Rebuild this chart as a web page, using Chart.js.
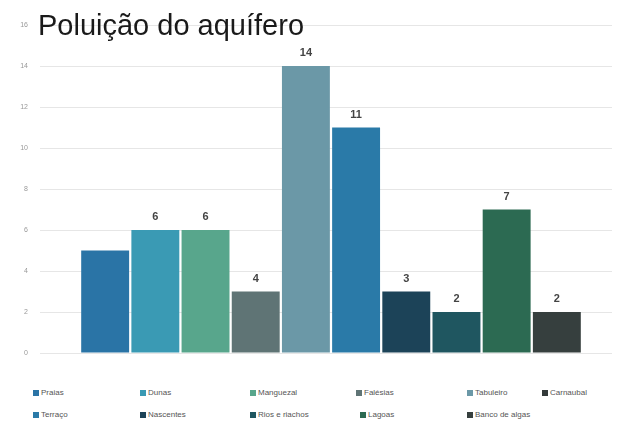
<!DOCTYPE html>
<html>
<head>
<meta charset="utf-8">
<script src="https://cdn.jsdelivr.net/npm/chart.js@4"></script>
<style>
  body { margin: 0; background: #fff; font-family: "Liberation Sans", Arial, sans-serif; }
  #wrap { position: relative; width: 617px; height: 426px; }
  #chart { position: absolute; left: 0; top: 0; }
  #title { position: absolute; left: 38px; top: 9px; font-size: 29px; color: #1a1a1a; white-space: nowrap; }
  .lg { position: absolute; font-size: 8px; color: #555; white-space: nowrap; line-height: 8px; }
  .lg i { display: inline-block; width: 6px; height: 6px; margin-right: 2px; vertical-align: -1px; }
</style>
</head>
<body>
<div id="wrap">
  <canvas id="chart" width="617" height="370"></canvas>
  <div id="title">Poluição do aquífero</div>
  <div id="legend"></div>
</div>
<script>
// Data
const series = ['Praias', 'Dunas', 'Manguezal', 'Falésias', 'Tabuleiro', 'Carnaubal',
                'Terraço', 'Nascentes', 'Rios e riachos', 'Lagoas', 'Banco de algas'];
const values = [5, 6, 6, 3, 14, null, 11, 3, 2, 7, 2];
const valueLabels = ['', '6', '6', '4', '14', '', '11', '3', '2', '7', '2'];
const colors = ['#2a74a6', '#3a9ab4', '#58a68c', '#5f7475', '#6b98a7', '#333a3a',
                '#2a7aa8', '#1c4358', '#1f5660', '#2c6a52', '#363f3e'];
const yTicks = [0, 2, 4, 6, 8, 10, 12, 14, 16];

// Labels above bars
const barLabels = {
    id: 'barLabels',
    afterDatasetsDraw(chart) {
        const ctx = chart.ctx;
        ctx.save();
        ctx.font = 'bold 11px "Liberation Sans", Arial, sans-serif';
        ctx.fillStyle = '#444';
        ctx.textAlign = 'center';
        ctx.textBaseline = 'middle';
        chart.data.datasets.forEach((ds, i) => {
            const bar = chart.getDatasetMeta(i).data[0];
            if (!bar || values[i] == null || !valueLabels[i]) return;
            ctx.fillText(valueLabels[i], bar.x, bar.y - 13);
        });
        ctx.restore();
    }
};

new Chart(document.getElementById('chart'), {
    type: 'bar',
    data: {
        labels: [''],
        datasets: series.map((name, i) => ({
            label: name,
            data: [values[i]],
            backgroundColor: colors[i],
            borderWidth: 0
        }))
    },
    options: {
        responsive: false,
        animation: false,
        skipNull: true,
        categoryPercentage: 0.893,
        barPercentage: 0.955,
        layout: { padding: { top: 25, bottom: 17, right: 5, left: 0 } },
        plugins: {
            legend: { display: false },
            tooltip: { enabled: false }
        },
        scales: {
            x: { display: false },
            y: {
                min: 0,
                max: 16,
                afterFit: s => { s.width = 50; },
                afterBuildTicks: s => { s.ticks = yTicks.map(v => ({ value: v })); },
                border: { display: false },
                grid: { color: '#e6e6e6', drawTicks: true, tickLength: 10 },
                ticks: {
                    padding: 12,
                    color: '#999',
                    font: { size: 7, family: '"Liberation Sans", Arial, sans-serif' }
                }
            }
        }
    },
    plugins: [barLabels]
});

// Legend laid out in columns like the original
const legendCols = [33, 140, 250, 356, 467, 542];
const legend = document.getElementById('legend');
series.forEach((name, i) => {
    const row = i < 6 ? 0 : 1;
    const col = row === 0 ? i : i - 6;
    const x = row === 1 && col === 3 ? 360 : legendCols[col];
    const el = document.createElement('div');
    el.className = 'lg';
    el.style.left = x + 'px';
    el.style.top = (row === 0 ? 389 : 411) + 'px';
    el.innerHTML = '<i style="background:' + colors[i] + '"></i>' + name;
    legend.appendChild(el);
});
</script>
</body>
</html>
